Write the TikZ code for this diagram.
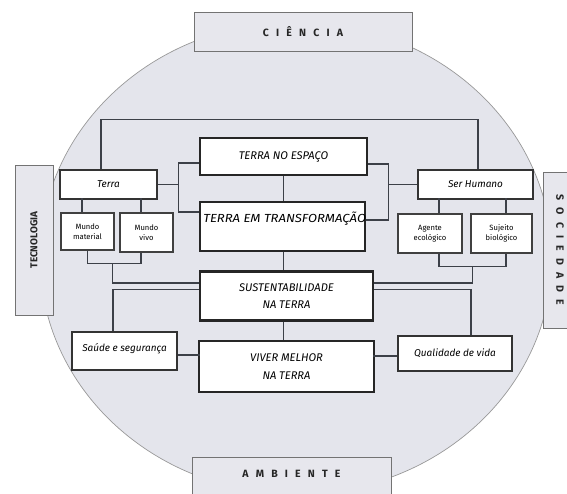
\documentclass[tikz,border=0pt]{standalone}
\usepackage{fontspec}
\usepackage{graphicx}
\setmainfont{Fira Sans}
\usetikzlibrary{calc}

\definecolor{discfill}{HTML}{E4E5EC}
\definecolor{themefill}{HTML}{E7E7ED}
\definecolor{linkgray}{HTML}{3C4048}

\def\px{0.03cm}
\def\gap{\hspace{0.68em}}

\tikzset{
  theme/.style={draw=black!55, fill=themefill, line width=0.7pt,
    font=\bfseries\fontsize{9}{10}\selectfont, text=black!85, inner sep=0pt},
  mainbox/.style={draw=black!85, fill=white, line width=2pt,
    font=\itshape\fontsize{9.5}{15}\selectfont, align=center, inner sep=0pt},
  subbox/.style={draw=black!80, fill=white, line width=1.3pt,
    font=\itshape\fontsize{8.5}{9}\selectfont, align=center, inner sep=0pt},
  tinybox/.style={draw=black!75, fill=white, line width=1pt,
    font=\fontsize{6.5}{9}\selectfont, align=center, inner sep=0pt},
  link/.style={draw=linkgray, line width=0.9pt}
}

\begin{document}
\begin{tikzpicture}[x=\px, y=-\px]
    \useasboundingbox (0,0) rectangle (567,493);

    % Gray disc behind everything
    \draw[draw=black!40, fill=discfill, line width=0.6pt] (296,258) ellipse [x radius=256, y radius=236];

    % Four themes round the disc
    \node[theme, minimum width=218*\px, minimum height=39*\px] (ciencia) at (303,31.5)
        {C\gap I\gap Ê\gap N\gap C\gap I\gap A};
    \node[theme, minimum width=199*\px, minimum height=53*\px, text height=7pt, text depth=18pt] (ambiente) at (291.5,483.5)
        {A\gap M\gap B\gap I\gap E\gap N\gap T\gap E};
    \node[theme, rotate=90, minimum width=150*\px, minimum height=38*\px, font=\bfseries\fontsize{8.5}{9}\selectfont] (tecnologia) at (34,240)
        {TECNOLOGIA};
    \node[theme, rotate=-90, minimum width=156*\px, minimum height=34*\px] (sociedade) at (560,250)
        {S\gap O\gap C\gap I\gap E\gap D\gap A\gap D\gap E};

    % Central column
    \node[mainbox, minimum width=167*\px, minimum height=37*\px] (espaco) at (283.5,156.5) {TERRA NO ESPAÇO};
    \node[mainbox, minimum width=165*\px, minimum height=49*\px, inner xsep=2pt, text height=7pt, text depth=14.5pt,
        font=\itshape\fontsize{10}{12}\selectfont] (transf) at (282.5,226.5)
        {\makebox[4.75cm][l]{\scalebox{1.12}[1]{TERRA EM TRANSFORMAÇÃO}}};
    \node[mainbox, minimum width=173*\px, minimum height=49*\px] (sust) at (286.5,296) {SUSTENTABILIDADE\\NA TERRA};
    \node[mainbox, minimum width=175*\px, minimum height=51*\px] (viver) at (286.5,366.5) {VIVER MELHOR\\NA TERRA};

    % Left side
    \node[subbox, minimum width=97*\px, minimum height=29*\px] (terra) at (108.5,184.5) {Terra};
    \node[tinybox, minimum width=53*\px, minimum height=37*\px] (material) at (87.5,231.5) {Mundo\\material};
    \node[tinybox, minimum width=53*\px, minimum height=39*\px] (vivo) at (146.5,232.5) {Mundo\\vivo};
    \node[subbox, minimum width=105*\px, minimum height=38*\px, text height=7pt, text depth=7pt] (saude) at (124.5,351) {Saúde e segurança};

    % Right side
    \node[subbox, minimum width=115*\px, minimum height=29*\px] (humano) at (475.5,184.5) {Ser Humano};
    \node[tinybox, minimum width=64*\px, minimum height=39*\px] (agente) at (430,233.5) {Agente\\ecológico};
    \node[tinybox, minimum width=61*\px, minimum height=39*\px] (sujeito) at (501.5,233.5) {Sujeito\\biológico};
    \node[subbox, minimum width=114*\px, minimum height=35*\px] (qualidade) at (455,353.5) {Qualidade de vida};

    % Top frame and brackets
    \draw[link] ($(terra.north)+(-7.5,0)$) -- ++(0,-50) -| ($(humano.north)+(2.5,0)$);
    \draw[link] ($(espaco.west)+(0,6.5)$) -- ++(-20,0) coordinate (lb) |- ($(transf.west)+(0,-14.5)$);
    \draw[link] (terra.east) -- (terra.east -| lb);
    \draw[link] ($(espaco.east)+(0,7.5)$) -- ++(20,0) coordinate (rb) |- ($(transf.east)+(0,-6.5)$);
    \draw[link] (humano.west) -- (humano.west -| rb);

    % Spine
    \draw[link] (espaco.south) -- (espaco.south |- transf.north);
    \draw[link] (transf.south -| espaco.south) -- (sust.north -| espaco.south);
    \draw[link] (sust.south -| espaco.south) -- (viver.north -| espaco.south);

    % Terra branches
    \draw[link] ($(material.north)+(-5.5,0)$) -- ++(0,-14);
    \draw[link] ($(vivo.north)+(-5.5,0)$) -- ++(0,-14);
    \draw[link] (material.south) -- ++(0,13) -| ($(vivo.south)+(-5.5,0)$);
    \draw[link] ($(sust.west)+(0,-13)$) -- ++(-86,0) -- ++(0,-20);
    \draw[link] ($(sust.west)+(0,-6.5)$) -| ($(saude.north)+(-11.5,0)$);

    % Ser Humano branches
    \draw[link] ($(agente.north)+(9,0)$) -- ++(0,-15);
    \draw[link] ($(sujeito.north)+(4.5,0)$) -- ++(0,-15);
    \draw[link] ($(agente.south)+(9,0)$) -- ++(0,13) -| ($(sujeito.south)+(4.5,0)$);
    \draw[link] ($(sust.east)+(0,-13)$) -- ++(98,0) -- ++(0,-17);
    \draw[link] ($(sust.east)+(0,-6.5)$) -| ($(qualidade.north)+(16,0)$);

    % Bottom row
    \draw[link] ($(saude.east)+(0,4)$) -- ++(22,0);
    \draw[link] ($(qualidade.west)+(0,2.5)$) -- ++(-24,0);

\end{tikzpicture}
\end{document}
